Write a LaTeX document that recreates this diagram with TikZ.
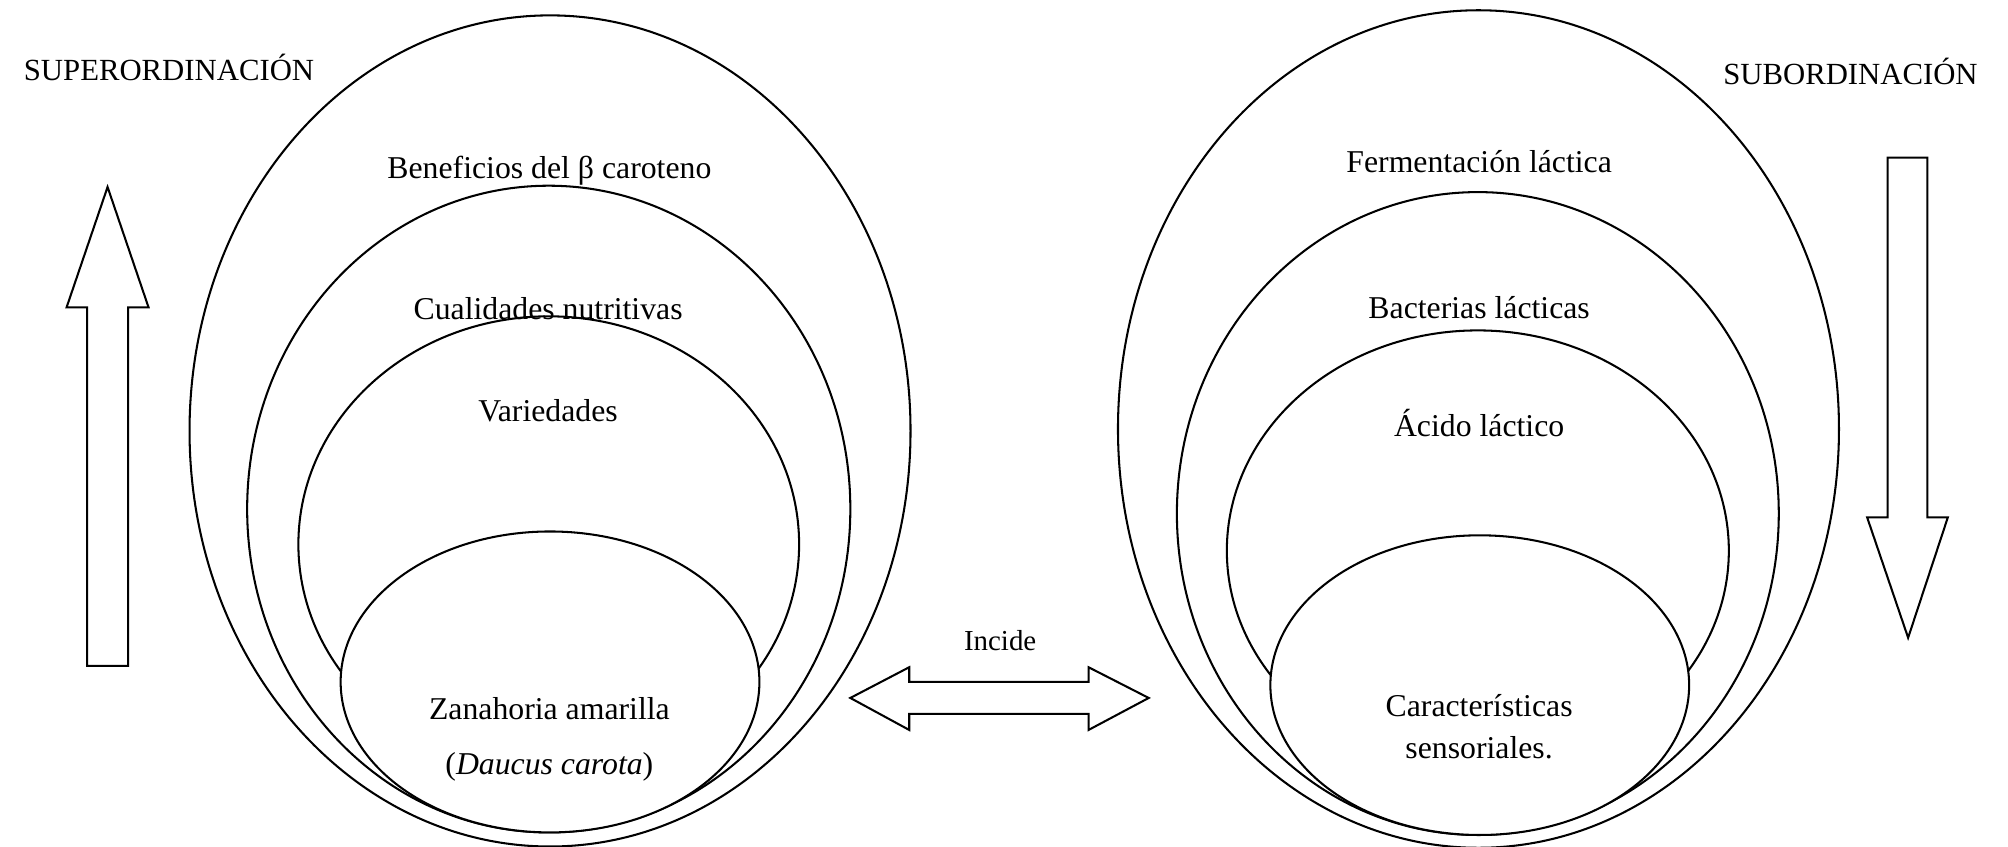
\documentclass[tikz,border=0pt]{standalone}
\usepackage{fontspec}
\setmainfont{Liberation Serif}
\usetikzlibrary{shapes.geometric}
\tikzset{
  ell/.style={ellipse, draw, line width=0.8pt, inner sep=0pt},
  wellbox/.style={ellipse, draw, fill=white, line width=0.8pt, inner sep=0pt},
  lbl/.style={font=\fontsize{12.4}{14}\selectfont, inner sep=0pt},
  biglbl/.style={font=\fontsize{12}{14}\selectfont, inner sep=0pt},
  smalllbl/.style={font=\fontsize{11.3}{13}\selectfont, inner sep=0pt},
  fatarrow/.style={draw, line width=0.8pt, line join=miter, fill=white}
}
\begin{document}
\begin{tikzpicture}[x=0.5pt, y=-0.5pt]
\useasboundingbox (0,0) rectangle (1568,661);
% left group
\node[ell, minimum width=281.5pt, minimum height=324.5pt] (L1) at (429.5,336.5) {};
\node[ell, minimum width=235.5pt, minimum height=252.5pt] (L2) at (428.5,397.5) {};
\node[ell, minimum width=195.5pt, minimum height=178pt] (L3) at (428.5,425) {};
\node[wellbox, minimum width=163.5pt, minimum height=117.5pt] (L4) at (429.5,532.5) {};
% right group
\node[ell, minimum width=281.5pt, minimum height=327pt] (R1) at (1154.5,335) {};
\node[ell, minimum width=235pt, minimum height=251pt] (R2) at (1154,401) {};
\node[ell, minimum width=196pt, minimum height=172pt] (R3) at (1154,430) {};
\node[wellbox, minimum width=163.5pt, minimum height=117pt] (R4) at (1155.5,535) {};
% labels
\node[biglbl] (sup) at (132,53) {SUPERORDINACIÓN};
\node[biglbl] (sub) at (1445,56) {SUBORDINACIÓN};
\node[lbl] (t1) at (429,133) {Beneficios del β caroteno};
\node[lbl] (t2) at (428,241) {Cualidades nutritivas};
\node[lbl] (t3) at (428,321) {Variedades};
\node[lbl] (t4) at (429,553) {Zanahoria amarilla};
\node[lbl] (t5) at (429,599) {(\textit{Daucus carota})};
\node[lbl] (r1) at (1155,126) {Fermentación láctica};
\node[lbl] (r2) at (1155,240) {Bacterias lácticas};
\node[lbl] (r3) at (1155,330) {Ácido láctico};
\node[lbl] (r4) at (1155,551) {Características};
\node[lbl] (r5) at (1155,584) {sensoriales.};
\node[smalllbl] (inc) at (781,500) {Incide};
% up arrow
\draw[fatarrow] (84,146) -- (116,240) -- (100,240) -- (100,520) -- (68,520) -- (68,240) -- (52,240) -- cycle;
% down arrow
\draw[fatarrow] (1490,498) -- (1521,404) -- (1505,404) -- (1505,123) -- (1474,123) -- (1474,404) -- (1458,404) -- cycle;
% double arrow
\draw[fatarrow] (664,545) -- (710,521) -- (710,532.5) -- (850,532.5) -- (850,521) -- (897,545) -- (850,570) -- (850,557.5) -- (710,557.5) -- (710,570) -- cycle;
\end{tikzpicture}
\end{document}
